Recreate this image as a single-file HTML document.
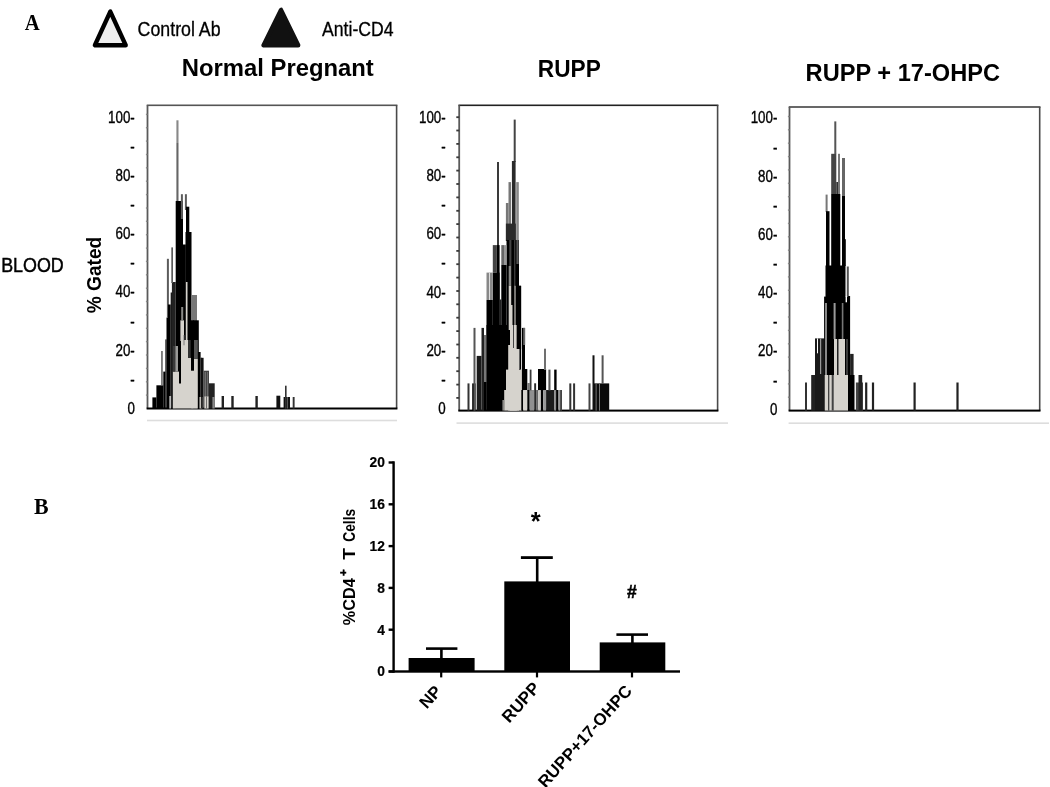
<!DOCTYPE html>
<html lang="en"><head><meta charset="utf-8"><title>Figure</title>
<style>
html,body{margin:0;padding:0;background:#fff;}
body{width:1050px;height:787px;overflow:hidden;}
svg text{fill:#000;}
svg{filter:blur(0.45px);}
</style></head><body>
<svg width="1050" height="787" viewBox="0 0 1050 787" style="display:block" shape-rendering="auto">
<text x="24.8" y="29.7" font-family='"Liberation Serif", serif' font-size="23" font-weight="bold" text-anchor="start" textLength="15" lengthAdjust="spacingAndGlyphs" >A</text>
<text x="34.0" y="513.6" font-family='"Liberation Serif", serif' font-size="23" font-weight="bold" text-anchor="start" textLength="14.6" lengthAdjust="spacingAndGlyphs" >B</text>
<polygon points="110.3,11.6 94.9,45.2 125.7,45.2" fill="#eeeeee" stroke="#000" stroke-width="4.4" stroke-linejoin="round"/>
<text x="137.6" y="35.6" font-family='"Liberation Sans", sans-serif' font-size="20" font-weight="normal" text-anchor="start" textLength="83" lengthAdjust="spacingAndGlyphs" stroke="#000" stroke-width="0.3">Control Ab</text>
<polygon points="281,9.9 263.6,45.2 298.2,45.2" fill="#111" stroke="#111" stroke-width="4.4" stroke-linejoin="round"/>
<text x="322" y="35.6" font-family='"Liberation Sans", sans-serif' font-size="20" font-weight="normal" text-anchor="start" textLength="71.6" lengthAdjust="spacingAndGlyphs" stroke="#000" stroke-width="0.3">Anti-CD4</text>
<text x="181.8" y="76.4" font-family='"Liberation Sans", sans-serif' font-size="24" font-weight="bold" text-anchor="start" textLength="192" lengthAdjust="spacingAndGlyphs" >Normal Pregnant</text>
<text x="537.8" y="76.6" font-family='"Liberation Sans", sans-serif' font-size="24" font-weight="bold" text-anchor="start" textLength="63" lengthAdjust="spacingAndGlyphs" >RUPP</text>
<text x="805.6" y="81" font-family='"Liberation Sans", sans-serif' font-size="24" font-weight="bold" text-anchor="start" textLength="194.4" lengthAdjust="spacingAndGlyphs" >RUPP + 17-OHPC</text>
<text x="1.2" y="271.7" font-family='"Liberation Sans", sans-serif' font-size="19.4" font-weight="normal" text-anchor="start" textLength="62.6" lengthAdjust="spacingAndGlyphs" stroke="#000" stroke-width="0.45">BLOOD</text>
<text transform="translate(101,313.3) rotate(-90)" font-family='"Liberation Sans", sans-serif' font-size="19.5" font-weight="bold" textLength="76.5" lengthAdjust="spacingAndGlyphs">% Gated</text>
<rect x="146.7" y="104.5" width="250.7" height="1.6" fill="#555"/>
<rect x="395.8" y="105.3" width="1.6" height="303.2" fill="#4a4a4a"/>
<rect x="146.6" y="105.3" width="1.8" height="303.2" fill="#5a5a5a"/>
<rect x="146.6" y="407.5" width="250.8" height="2.0" fill="#000"/>
<rect x="147.0" y="419.7" width="250.0" height="1.6" fill="#dddddd"/>
<rect x="145.9" y="394.4" width="1.6" height="1.4" fill="#888"/>
<rect x="145.9" y="381.1" width="1.6" height="1.4" fill="#888"/>
<rect x="145.9" y="367.7" width="1.6" height="1.4" fill="#888"/>
<rect x="145.9" y="354.3" width="1.6" height="1.4" fill="#888"/>
<rect x="145.9" y="340.9" width="1.6" height="1.4" fill="#888"/>
<rect x="145.9" y="327.6" width="1.6" height="1.4" fill="#888"/>
<rect x="145.9" y="314.2" width="1.6" height="1.4" fill="#888"/>
<rect x="145.9" y="300.8" width="1.6" height="1.4" fill="#888"/>
<rect x="145.9" y="287.5" width="1.6" height="1.4" fill="#888"/>
<rect x="145.9" y="274.1" width="1.6" height="1.4" fill="#888"/>
<rect x="145.9" y="260.7" width="1.6" height="1.4" fill="#888"/>
<rect x="145.9" y="247.4" width="1.6" height="1.4" fill="#888"/>
<rect x="145.9" y="234.0" width="1.6" height="1.4" fill="#888"/>
<rect x="145.9" y="220.6" width="1.6" height="1.4" fill="#888"/>
<rect x="145.9" y="207.3" width="1.6" height="1.4" fill="#888"/>
<rect x="145.9" y="193.9" width="1.6" height="1.4" fill="#888"/>
<rect x="145.9" y="180.5" width="1.6" height="1.4" fill="#888"/>
<rect x="145.9" y="167.1" width="1.6" height="1.4" fill="#888"/>
<rect x="145.9" y="153.8" width="1.6" height="1.4" fill="#888"/>
<rect x="145.9" y="140.4" width="1.6" height="1.4" fill="#888"/>
<rect x="145.9" y="127.0" width="1.6" height="1.4" fill="#888"/>
<rect x="145.9" y="113.7" width="1.6" height="1.4" fill="#888"/>
<text transform="translate(134.8,122.6) scale(0.834,1)" font-family='"Liberation Sans", sans-serif' font-size="16" font-weight="normal" text-anchor="end" stroke="#000" stroke-width="0.35">100-</text>
<text transform="translate(134.8,180.9) scale(0.834,1)" font-family='"Liberation Sans", sans-serif' font-size="16" font-weight="normal" text-anchor="end" stroke="#000" stroke-width="0.35">80-</text>
<text transform="translate(134.8,239.1) scale(0.834,1)" font-family='"Liberation Sans", sans-serif' font-size="16" font-weight="normal" text-anchor="end" stroke="#000" stroke-width="0.35">60-</text>
<text transform="translate(134.8,297.4) scale(0.834,1)" font-family='"Liberation Sans", sans-serif' font-size="16" font-weight="normal" text-anchor="end" stroke="#000" stroke-width="0.35">40-</text>
<text transform="translate(134.8,355.6) scale(0.834,1)" font-family='"Liberation Sans", sans-serif' font-size="16" font-weight="normal" text-anchor="end" stroke="#000" stroke-width="0.35">20-</text>
<text transform="translate(134.8,151.7) scale(0.834,1)" font-family='"Liberation Sans", sans-serif' font-size="16" font-weight="normal" text-anchor="end" stroke="#000" stroke-width="0.35">-</text>
<text transform="translate(134.8,210.0) scale(0.834,1)" font-family='"Liberation Sans", sans-serif' font-size="16" font-weight="normal" text-anchor="end" stroke="#000" stroke-width="0.35">-</text>
<text transform="translate(134.8,268.2) scale(0.834,1)" font-family='"Liberation Sans", sans-serif' font-size="16" font-weight="normal" text-anchor="end" stroke="#000" stroke-width="0.35">-</text>
<text transform="translate(134.8,326.5) scale(0.834,1)" font-family='"Liberation Sans", sans-serif' font-size="16" font-weight="normal" text-anchor="end" stroke="#000" stroke-width="0.35">-</text>
<text transform="translate(134.8,384.8) scale(0.834,1)" font-family='"Liberation Sans", sans-serif' font-size="16" font-weight="normal" text-anchor="end" stroke="#000" stroke-width="0.35">-</text>
<text transform="translate(134.8,413.9) scale(0.834,1)" font-family='"Liberation Sans", sans-serif' font-size="16" font-weight="normal" text-anchor="end" stroke="#000" stroke-width="0.35">0</text>
<rect x="458.4" y="104.5" width="260.0" height="1.6" fill="#222"/>
<rect x="716.8" y="105.3" width="1.6" height="305.3" fill="#4a4a4a"/>
<rect x="458.3" y="105.3" width="1.8" height="305.3" fill="#5a5a5a"/>
<rect x="458.3" y="409.6" width="260.1" height="2.0" fill="#000"/>
<rect x="456.5" y="422.3" width="271.5" height="1.6" fill="#dddddd"/>
<rect x="456.3" y="397.0" width="2.9" height="1.8" fill="#3a3a3a"/>
<rect x="456.3" y="383.7" width="2.9" height="1.8" fill="#3a3a3a"/>
<rect x="456.3" y="370.3" width="2.9" height="1.8" fill="#3a3a3a"/>
<rect x="456.3" y="356.9" width="2.9" height="1.8" fill="#3a3a3a"/>
<rect x="456.3" y="343.6" width="2.9" height="1.8" fill="#3a3a3a"/>
<rect x="456.3" y="330.2" width="2.9" height="1.8" fill="#3a3a3a"/>
<rect x="456.3" y="316.8" width="2.9" height="1.8" fill="#3a3a3a"/>
<rect x="456.3" y="303.4" width="2.9" height="1.8" fill="#3a3a3a"/>
<rect x="456.3" y="290.1" width="2.9" height="1.8" fill="#3a3a3a"/>
<rect x="456.3" y="276.7" width="2.9" height="1.8" fill="#3a3a3a"/>
<rect x="456.3" y="263.3" width="2.9" height="1.8" fill="#3a3a3a"/>
<rect x="456.3" y="250.0" width="2.9" height="1.8" fill="#3a3a3a"/>
<rect x="456.3" y="236.6" width="2.9" height="1.8" fill="#3a3a3a"/>
<rect x="456.3" y="223.2" width="2.9" height="1.8" fill="#3a3a3a"/>
<rect x="456.3" y="209.9" width="2.9" height="1.8" fill="#3a3a3a"/>
<rect x="456.3" y="196.5" width="2.9" height="1.8" fill="#3a3a3a"/>
<rect x="456.3" y="183.1" width="2.9" height="1.8" fill="#3a3a3a"/>
<rect x="456.3" y="169.7" width="2.9" height="1.8" fill="#3a3a3a"/>
<rect x="456.3" y="156.4" width="2.9" height="1.8" fill="#3a3a3a"/>
<rect x="456.3" y="143.0" width="2.9" height="1.8" fill="#3a3a3a"/>
<rect x="456.3" y="129.6" width="2.9" height="1.8" fill="#3a3a3a"/>
<rect x="456.3" y="116.3" width="2.9" height="1.8" fill="#3a3a3a"/>
<text transform="translate(445.7,122.7) scale(0.834,1)" font-family='"Liberation Sans", sans-serif' font-size="16" font-weight="normal" text-anchor="end" stroke="#000" stroke-width="0.35">100-</text>
<text transform="translate(445.7,181.0) scale(0.834,1)" font-family='"Liberation Sans", sans-serif' font-size="16" font-weight="normal" text-anchor="end" stroke="#000" stroke-width="0.35">80-</text>
<text transform="translate(445.7,239.2) scale(0.834,1)" font-family='"Liberation Sans", sans-serif' font-size="16" font-weight="normal" text-anchor="end" stroke="#000" stroke-width="0.35">60-</text>
<text transform="translate(445.7,297.5) scale(0.834,1)" font-family='"Liberation Sans", sans-serif' font-size="16" font-weight="normal" text-anchor="end" stroke="#000" stroke-width="0.35">40-</text>
<text transform="translate(445.7,355.7) scale(0.834,1)" font-family='"Liberation Sans", sans-serif' font-size="16" font-weight="normal" text-anchor="end" stroke="#000" stroke-width="0.35">20-</text>
<text transform="translate(445.7,151.8) scale(0.834,1)" font-family='"Liberation Sans", sans-serif' font-size="16" font-weight="normal" text-anchor="end" stroke="#000" stroke-width="0.35">-</text>
<text transform="translate(445.7,210.1) scale(0.834,1)" font-family='"Liberation Sans", sans-serif' font-size="16" font-weight="normal" text-anchor="end" stroke="#000" stroke-width="0.35">-</text>
<text transform="translate(445.7,268.4) scale(0.834,1)" font-family='"Liberation Sans", sans-serif' font-size="16" font-weight="normal" text-anchor="end" stroke="#000" stroke-width="0.35">-</text>
<text transform="translate(445.7,326.6) scale(0.834,1)" font-family='"Liberation Sans", sans-serif' font-size="16" font-weight="normal" text-anchor="end" stroke="#000" stroke-width="0.35">-</text>
<text transform="translate(445.7,384.9) scale(0.834,1)" font-family='"Liberation Sans", sans-serif' font-size="16" font-weight="normal" text-anchor="end" stroke="#000" stroke-width="0.35">-</text>
<text transform="translate(445.7,414.0) scale(0.834,1)" font-family='"Liberation Sans", sans-serif' font-size="16" font-weight="normal" text-anchor="end" stroke="#000" stroke-width="0.35">0</text>
<rect x="788.7" y="106.2" width="251.8" height="1.6" fill="#444"/>
<rect x="1038.9" y="107.0" width="1.6" height="303.6" fill="#4a4a4a"/>
<rect x="788.6" y="107.0" width="1.8" height="303.6" fill="#5a5a5a"/>
<rect x="788.6" y="409.6" width="251.9" height="2.0" fill="#000"/>
<rect x="788.6" y="422.4" width="260.4" height="1.6" fill="#dddddd"/>
<rect x="787.9" y="396.5" width="1.6" height="1.4" fill="#888"/>
<rect x="787.9" y="383.2" width="1.6" height="1.4" fill="#888"/>
<rect x="787.9" y="369.8" width="1.6" height="1.4" fill="#888"/>
<rect x="787.9" y="356.4" width="1.6" height="1.4" fill="#888"/>
<rect x="787.9" y="343.1" width="1.6" height="1.4" fill="#888"/>
<rect x="787.9" y="329.7" width="1.6" height="1.4" fill="#888"/>
<rect x="787.9" y="316.3" width="1.6" height="1.4" fill="#888"/>
<rect x="787.9" y="302.9" width="1.6" height="1.4" fill="#888"/>
<rect x="787.9" y="289.6" width="1.6" height="1.4" fill="#888"/>
<rect x="787.9" y="276.2" width="1.6" height="1.4" fill="#888"/>
<rect x="787.9" y="262.8" width="1.6" height="1.4" fill="#888"/>
<rect x="787.9" y="249.5" width="1.6" height="1.4" fill="#888"/>
<rect x="787.9" y="236.1" width="1.6" height="1.4" fill="#888"/>
<rect x="787.9" y="222.7" width="1.6" height="1.4" fill="#888"/>
<rect x="787.9" y="209.4" width="1.6" height="1.4" fill="#888"/>
<rect x="787.9" y="196.0" width="1.6" height="1.4" fill="#888"/>
<rect x="787.9" y="182.6" width="1.6" height="1.4" fill="#888"/>
<rect x="787.9" y="169.2" width="1.6" height="1.4" fill="#888"/>
<rect x="787.9" y="155.9" width="1.6" height="1.4" fill="#888"/>
<rect x="787.9" y="142.5" width="1.6" height="1.4" fill="#888"/>
<rect x="787.9" y="129.1" width="1.6" height="1.4" fill="#888"/>
<rect x="787.9" y="115.8" width="1.6" height="1.4" fill="#888"/>
<text transform="translate(777.4,123.4) scale(0.834,1)" font-family='"Liberation Sans", sans-serif' font-size="16" font-weight="normal" text-anchor="end" stroke="#000" stroke-width="0.35">100-</text>
<text transform="translate(777.4,181.7) scale(0.834,1)" font-family='"Liberation Sans", sans-serif' font-size="16" font-weight="normal" text-anchor="end" stroke="#000" stroke-width="0.35">80-</text>
<text transform="translate(777.4,239.9) scale(0.834,1)" font-family='"Liberation Sans", sans-serif' font-size="16" font-weight="normal" text-anchor="end" stroke="#000" stroke-width="0.35">60-</text>
<text transform="translate(777.4,298.2) scale(0.834,1)" font-family='"Liberation Sans", sans-serif' font-size="16" font-weight="normal" text-anchor="end" stroke="#000" stroke-width="0.35">40-</text>
<text transform="translate(777.4,356.4) scale(0.834,1)" font-family='"Liberation Sans", sans-serif' font-size="16" font-weight="normal" text-anchor="end" stroke="#000" stroke-width="0.35">20-</text>
<text transform="translate(777.4,152.5) scale(0.834,1)" font-family='"Liberation Sans", sans-serif' font-size="16" font-weight="normal" text-anchor="end" stroke="#000" stroke-width="0.35">-</text>
<text transform="translate(777.4,210.8) scale(0.834,1)" font-family='"Liberation Sans", sans-serif' font-size="16" font-weight="normal" text-anchor="end" stroke="#000" stroke-width="0.35">-</text>
<text transform="translate(777.4,269.1) scale(0.834,1)" font-family='"Liberation Sans", sans-serif' font-size="16" font-weight="normal" text-anchor="end" stroke="#000" stroke-width="0.35">-</text>
<text transform="translate(777.4,327.3) scale(0.834,1)" font-family='"Liberation Sans", sans-serif' font-size="16" font-weight="normal" text-anchor="end" stroke="#000" stroke-width="0.35">-</text>
<text transform="translate(777.4,385.6) scale(0.834,1)" font-family='"Liberation Sans", sans-serif' font-size="16" font-weight="normal" text-anchor="end" stroke="#000" stroke-width="0.35">-</text>
<text transform="translate(777.4,414.7) scale(0.834,1)" font-family='"Liberation Sans", sans-serif' font-size="16" font-weight="normal" text-anchor="end" stroke="#000" stroke-width="0.35">0</text>
<rect x="152.4" y="397.4" width="4.0" height="11.1" fill="#000"/>
<rect x="156.4" y="385.3" width="6.9" height="23.2" fill="#000"/>
<rect x="161.2" y="351.0" width="1.5" height="34.5" fill="#5c5c5c"/>
<rect x="163.3" y="371.6" width="2.1" height="36.9" fill="#000"/>
<rect x="165.4" y="339.4" width="1.1" height="69.1" fill="#000"/>
<rect x="166.5" y="317.6" width="1.5" height="90.9" fill="#000"/>
<rect x="166.9" y="258.8" width="2.0" height="59.2" fill="#5c5c5c"/>
<rect x="168.0" y="304.5" width="2.7" height="104.0" fill="#000"/>
<rect x="170.7" y="292.5" width="1.2" height="116.0" fill="#000"/>
<rect x="171.9" y="282.0" width="3.8" height="126.5" fill="#222"/>
<rect x="171.3" y="247.4" width="1.7" height="35.6" fill="#5c5c5c"/>
<rect x="175.7" y="201.0" width="7.3" height="207.5" fill="#000"/>
<rect x="176.4" y="143.0" width="2.1" height="58.0" fill="#666"/>
<rect x="176.4" y="120.3" width="2.1" height="22.7" fill="#888"/>
<rect x="180.9" y="194.2" width="2.0" height="24.8" fill="#5c5c5c"/>
<rect x="182.6" y="244.5" width="3.2" height="164.0" fill="#000"/>
<rect x="184.9" y="194.2" width="2.0" height="15.8" fill="#5c5c5c"/>
<rect x="186.0" y="206.7" width="3.3" height="201.8" fill="#000"/>
<rect x="189.3" y="232.0" width="2.0" height="176.5" fill="#000"/>
<rect x="185.5" y="232.0" width="5.8" height="176.5" fill="#000"/>
<rect x="191.3" y="295.0" width="5.7" height="113.5" fill="#777"/>
<rect x="193.2" y="320.3" width="5.6" height="88.2" fill="#000"/>
<rect x="190.7" y="320.3" width="3.3" height="50.7" fill="#000"/>
<rect x="197.8" y="352.0" width="2.8" height="56.5" fill="#000"/>
<rect x="200.6" y="357.8" width="3.0" height="50.7" fill="#111"/>
<rect x="203.6" y="370.7" width="5.4" height="37.8" fill="#444"/>
<rect x="209.0" y="383.3" width="5.7" height="25.2" fill="#222"/>
<rect x="204.8" y="372.0" width="0.8" height="24.4" fill="#8a8a8a"/>
<rect x="207.2" y="372.0" width="0.8" height="24.4" fill="#777"/>
<rect x="172.9" y="371.6" width="6.1" height="36.9" fill="#d6d3cd"/>
<rect x="172.9" y="346.0" width="2.6" height="25.6" fill="#3a3a3a"/>
<rect x="175.5" y="346.0" width="2.5" height="25.6" fill="#9a9a98"/>
<rect x="179.0" y="383.5" width="2.0" height="25.0" fill="#d6d3cd"/>
<rect x="181.0" y="340.0" width="7.0" height="68.5" fill="#d6d3cd"/>
<rect x="180.4" y="320.3" width="3.6" height="20.7" fill="#d6d3cd"/>
<rect x="181.2" y="307.0" width="2.0" height="13.3" fill="#8a8a88"/>
<rect x="185.9" y="282.0" width="1.6" height="59.0" fill="#d6d3cd"/>
<rect x="183.6" y="335.0" width="0.8" height="10.3" fill="#666"/>
<rect x="188.0" y="357.8" width="3.0" height="50.7" fill="#d6d3cd"/>
<rect x="188.0" y="340.0" width="2.7" height="17.8" fill="#333"/>
<rect x="191.0" y="370.7" width="3.0" height="37.8" fill="#d6d3cd"/>
<rect x="194.0" y="358.7" width="3.8" height="49.8" fill="#d6d3cd"/>
<rect x="194.0" y="340.0" width="3.8" height="18.7" fill="#555"/>
<rect x="199.5" y="397.0" width="2.7" height="11.5" fill="#d6d3cd"/>
<rect x="200.9" y="357.8" width="1.0" height="50.7" fill="#111"/>
<rect x="204.4" y="396.4" width="4.1" height="12.1" fill="#d6d3cd"/>
<rect x="206.0" y="396.4" width="0.8" height="12.1" fill="#555"/>
<rect x="212.4" y="397.0" width="2.3" height="11.5" fill="#888"/>
<rect x="169.3" y="396.0" width="1.8" height="12.5" fill="#bbb"/>
<rect x="221.6" y="396.0" width="2.4" height="12.5" fill="#222"/>
<rect x="231.3" y="396.0" width="2.4" height="12.5" fill="#222"/>
<rect x="255.4" y="396.0" width="2.4" height="12.5" fill="#222"/>
<rect x="276.4" y="395.7" width="3.9" height="12.8" fill="#111"/>
<rect x="283.6" y="397.0" width="6.4" height="11.5" fill="#111"/>
<rect x="285.0" y="385.7" width="1.6" height="22.8" fill="#333"/>
<rect x="287.2" y="397.0" width="0.7" height="11.5" fill="#777"/>
<rect x="292.7" y="397.0" width="1.9" height="11.5" fill="#333"/>
<rect x="497.0" y="162.0" width="2.0" height="84.0" fill="#3a3a3a"/>
<rect x="513.7" y="119.6" width="2.0" height="42.4" fill="#444"/>
<rect x="511.9" y="161.0" width="3.7" height="80.0" fill="#2a2a2a"/>
<rect x="508.5" y="182.1" width="2.5" height="58.9" fill="#777"/>
<rect x="516.2" y="182.1" width="2.6" height="58.9" fill="#888"/>
<rect x="505.9" y="203.0" width="2.6" height="38.0" fill="#777"/>
<rect x="505.9" y="223.6" width="9.9" height="17.4" fill="#2a2a2a"/>
<rect x="506.5" y="240.0" width="12.5" height="170.6" fill="#000"/>
<rect x="509.3" y="240.0" width="2.1" height="26.0" fill="#444"/>
<rect x="514.0" y="240.0" width="1.4" height="46.0" fill="#3a3a3a"/>
<rect x="516.4" y="240.0" width="2.3" height="24.0" fill="#555"/>
<rect x="492.8" y="245.1" width="4.0" height="27.5" fill="#444"/>
<rect x="492.8" y="272.6" width="6.8" height="138.0" fill="#000"/>
<rect x="496.8" y="245.1" width="2.8" height="165.5" fill="#000"/>
<rect x="486.5" y="272.6" width="6.3" height="27.4" fill="#888"/>
<rect x="489.0" y="272.6" width="1.0" height="27.4" fill="#ddd"/>
<rect x="486.5" y="300.0" width="6.3" height="110.6" fill="#000"/>
<rect x="499.6" y="299.5" width="1.7" height="111.1" fill="#222"/>
<rect x="501.3" y="245.1" width="2.7" height="19.9" fill="#666"/>
<rect x="501.3" y="265.0" width="5.2" height="145.6" fill="#000"/>
<rect x="504.0" y="245.1" width="2.5" height="19.9" fill="#999"/>
<rect x="519.0" y="285.8" width="2.1" height="124.8" fill="#000"/>
<rect x="467.5" y="383.4" width="2.0" height="27.2" fill="#333"/>
<rect x="472.2" y="383.4" width="3.4" height="27.2" fill="#000"/>
<rect x="473.5" y="327.9" width="2.0" height="82.7" fill="#555"/>
<rect x="476.7" y="355.9" width="4.8" height="54.7" fill="#1a1a1a"/>
<rect x="481.5" y="327.9" width="2.5" height="82.7" fill="#222"/>
<rect x="484.0" y="335.0" width="2.5" height="47.0" fill="#777"/>
<rect x="484.0" y="382.0" width="2.5" height="28.6" fill="#000"/>
<rect x="486.5" y="325.0" width="23.5" height="85.6" fill="#000"/>
<rect x="508.7" y="266.0" width="2.5" height="19.8" fill="#8a8a88"/>
<rect x="508.7" y="285.8" width="2.5" height="44.2" fill="#d6d3cd"/>
<rect x="509.2" y="305.0" width="3.3" height="25.0" fill="#d6d3cd"/>
<rect x="514.3" y="285.8" width="1.4" height="40.2" fill="#a8a6a2"/>
<rect x="510.0" y="325.0" width="6.8" height="85.6" fill="#d6d3cd"/>
<rect x="508.2" y="349.0" width="10.8" height="61.6" fill="#d6d3cd"/>
<rect x="508.2" y="345.0" width="1.8" height="4.0" fill="#d6d3cd"/>
<rect x="506.0" y="369.6" width="15.9" height="41.0" fill="#d6d3cd"/>
<rect x="504.2" y="390.0" width="1.8" height="20.6" fill="#d6d3cd"/>
<rect x="502.4" y="400.0" width="1.8" height="10.6" fill="#8c8a86"/>
<rect x="513.0" y="325.0" width="1.0" height="23.0" fill="#444"/>
<rect x="519.0" y="349.0" width="0.8" height="20.0" fill="#777"/>
<rect x="516.8" y="285.8" width="4.3" height="63.2" fill="#000"/>
<rect x="521.9" y="327.9" width="3.1" height="62.3" fill="#000"/>
<rect x="523.2" y="327.9" width="2.0" height="17.1" fill="#666"/>
<rect x="525.0" y="369.0" width="2.3" height="21.2" fill="#000"/>
<rect x="521.3" y="390.0" width="1.9" height="20.6" fill="#000"/>
<rect x="523.2" y="390.2" width="4.1" height="20.4" fill="#d6d3cd"/>
<rect x="527.3" y="383.0" width="2.4" height="7.5" fill="#777"/>
<rect x="527.3" y="390.0" width="2.4" height="20.6" fill="#000"/>
<rect x="529.7" y="390.0" width="4.5" height="20.6" fill="#909090"/>
<rect x="529.7" y="369.6" width="1.8" height="20.7" fill="#3a3a3a"/>
<rect x="534.2" y="383.3" width="1.9" height="27.3" fill="#2a2a2a"/>
<rect x="536.1" y="390.0" width="2.1" height="20.6" fill="#666"/>
<rect x="538.0" y="369.0" width="8.1" height="21.5" fill="#000"/>
<rect x="544.0" y="348.7" width="2.0" height="21.3" fill="#707070"/>
<rect x="538.2" y="390.0" width="2.7" height="20.6" fill="#c8c6c2"/>
<rect x="540.9" y="390.0" width="2.3" height="20.6" fill="#000"/>
<rect x="543.2" y="390.0" width="2.9" height="20.6" fill="#999"/>
<rect x="546.1" y="390.0" width="8.1" height="20.6" fill="#1c1c1c"/>
<rect x="548.4" y="369.6" width="2.1" height="20.9" fill="#555"/>
<rect x="554.2" y="369.6" width="2.4" height="20.9" fill="#000"/>
<rect x="554.2" y="390.0" width="1.9" height="20.6" fill="#888"/>
<rect x="556.1" y="390.0" width="2.4" height="20.6" fill="#000"/>
<rect x="558.5" y="390.0" width="1.6" height="20.6" fill="#999"/>
<rect x="560.1" y="390.0" width="1.9" height="20.6" fill="#444"/>
<rect x="569.3" y="383.4" width="2.0" height="27.2" fill="#333"/>
<rect x="573.1" y="383.4" width="2.0" height="27.2" fill="#333"/>
<rect x="588.5" y="383.4" width="2.0" height="27.2" fill="#444"/>
<rect x="593.2" y="383.4" width="16.0" height="27.2" fill="#0a0a0a"/>
<rect x="592.5" y="355.3" width="2.0" height="55.3" fill="#111"/>
<rect x="595.6" y="384.0" width="1.0" height="26.6" fill="#777"/>
<rect x="599.0" y="384.0" width="1.0" height="26.6" fill="#777"/>
<rect x="601.6" y="355.3" width="2.0" height="28.7" fill="#555"/>
<rect x="805.0" y="382.5" width="2.0" height="28.1" fill="#333"/>
<rect x="811.2" y="375.0" width="3.8" height="35.6" fill="#222"/>
<rect x="815.0" y="338.4" width="9.5" height="72.2" fill="#1a1a1a"/>
<rect x="817.0" y="338.4" width="1.0" height="14.9" fill="#fff"/>
<rect x="820.0" y="338.4" width="1.2" height="35.6" fill="#999"/>
<rect x="824.1" y="296.6" width="25.6" height="114.0" fill="#000"/>
<rect x="825.5" y="265.5" width="20.0" height="31.5" fill="#000"/>
<rect x="825.6" y="194.6" width="2.0" height="17.4" fill="#777"/>
<rect x="826.0" y="211.2" width="3.5" height="54.8" fill="#000"/>
<rect x="831.2" y="194.0" width="9.1" height="72.0" fill="#000"/>
<rect x="831.2" y="153.8" width="5.1" height="40.2" fill="#444"/>
<rect x="834.3" y="121.4" width="2.0" height="32.6" fill="#555"/>
<rect x="838.0" y="153.8" width="2.0" height="40.2" fill="#777"/>
<rect x="836.3" y="182.0" width="1.7" height="12.0" fill="#333"/>
<rect x="842.0" y="158.0" width="3.0" height="38.0" fill="#666"/>
<rect x="842.0" y="196.0" width="3.0" height="70.0" fill="#000"/>
<rect x="845.0" y="239.2" width="0.8" height="26.8" fill="#000"/>
<rect x="846.8" y="266.5" width="2.0" height="30.5" fill="#555"/>
<rect x="845.6" y="296.0" width="1.4" height="6.3" fill="#fff"/>
<rect x="825.0" y="303.0" width="2.0" height="72.0" fill="#888"/>
<rect x="833.6" y="303.0" width="2.0" height="36.0" fill="#999"/>
<rect x="841.8" y="303.0" width="1.6" height="36.0" fill="#777"/>
<rect x="834.0" y="339.0" width="11.0" height="36.5" fill="#d6d3cd"/>
<rect x="837.0" y="339.0" width="1.5" height="36.5" fill="#222"/>
<rect x="824.7" y="375.0" width="23.4" height="35.6" fill="#d6d3cd"/>
<rect x="828.1" y="375.0" width="1.2" height="35.6" fill="#333"/>
<rect x="831.7" y="375.0" width="2.0" height="35.6" fill="#444"/>
<rect x="846.5" y="339.0" width="1.0" height="36.0" fill="#777"/>
<rect x="848.1" y="296.0" width="2.0" height="114.6" fill="#000"/>
<rect x="850.1" y="353.9" width="3.5" height="56.7" fill="#222"/>
<rect x="848.1" y="375.0" width="6.4" height="35.6" fill="#000"/>
<rect x="855.9" y="382.5" width="7.1" height="28.1" fill="#444"/>
<rect x="858.5" y="375.0" width="3.7" height="35.6" fill="#222"/>
<rect x="865.1" y="382.5" width="2.2" height="28.1" fill="#222"/>
<rect x="871.9" y="382.5" width="2.2" height="28.1" fill="#222"/>
<rect x="913.5" y="382.5" width="2.2" height="28.1" fill="#222"/>
<rect x="956.4" y="382.5" width="2.2" height="28.1" fill="#222"/>
<rect x="392.4" y="461.3" width="2.4" height="211.4" fill="#000"/>
<rect x="388.6" y="670.3" width="291.4" height="2.4" fill="#000"/>
<rect x="388.6" y="670.3" width="5.0" height="2.4" fill="#000"/>
<text transform="translate(384.9,676.4) scale(1.0,1)" font-family='"Liberation Sans", sans-serif' font-size="13.8" font-weight="bold" text-anchor="end" stroke="#000" stroke-width="0.2">0</text>
<rect x="388.6" y="628.5" width="5.0" height="2.4" fill="#000"/>
<text transform="translate(384.9,634.6) scale(1.0,1)" font-family='"Liberation Sans", sans-serif' font-size="13.8" font-weight="bold" text-anchor="end" stroke="#000" stroke-width="0.2">4</text>
<rect x="388.6" y="586.7" width="5.0" height="2.4" fill="#000"/>
<text transform="translate(384.9,592.8) scale(1.0,1)" font-family='"Liberation Sans", sans-serif' font-size="13.8" font-weight="bold" text-anchor="end" stroke="#000" stroke-width="0.2">8</text>
<rect x="388.6" y="544.9" width="5.0" height="2.4" fill="#000"/>
<text transform="translate(384.9,551.0) scale(1.0,1)" font-family='"Liberation Sans", sans-serif' font-size="13.8" font-weight="bold" text-anchor="end" stroke="#000" stroke-width="0.2">12</text>
<rect x="388.6" y="503.1" width="5.0" height="2.4" fill="#000"/>
<text transform="translate(384.9,509.2) scale(1.0,1)" font-family='"Liberation Sans", sans-serif' font-size="13.8" font-weight="bold" text-anchor="end" stroke="#000" stroke-width="0.2">16</text>
<rect x="388.6" y="461.3" width="5.0" height="2.4" fill="#000"/>
<text transform="translate(384.9,467.4) scale(1.0,1)" font-family='"Liberation Sans", sans-serif' font-size="13.8" font-weight="bold" text-anchor="end" stroke="#000" stroke-width="0.2">20</text>
<rect x="440.1" y="671.5" width="2.2" height="5.9" fill="#000"/>
<rect x="535.9" y="671.5" width="2.2" height="5.9" fill="#000"/>
<rect x="630.9" y="671.5" width="2.2" height="5.9" fill="#000"/>
<rect x="408.6" y="658.0" width="66.0" height="13.5" fill="#000"/>
<rect x="504.3" y="581.4" width="65.7" height="90.1" fill="#000"/>
<rect x="599.7" y="642.4" width="65.6" height="29.1" fill="#000"/>
<rect x="440.1" y="648.6" width="2.6" height="10.4" fill="#000"/>
<rect x="426.0" y="647.3" width="31.4" height="2.6" fill="#000"/>
<rect x="535.9" y="557.6" width="2.6" height="24.4" fill="#000"/>
<rect x="520.9" y="556.2" width="31.9" height="2.8" fill="#000"/>
<rect x="631.1" y="634.6" width="2.6" height="8.4" fill="#000"/>
<rect x="616.4" y="633.3" width="31.6" height="2.6" fill="#000"/>
<text x="535.6" y="529.6" font-family='"Liberation Sans", sans-serif' font-size="25.5" font-weight="bold" text-anchor="middle" >*</text>
<text x="631.9" y="598.0" font-family='"Liberation Sans", sans-serif' font-size="17.5" font-weight="bold" text-anchor="middle" stroke="#000" stroke-width="0.5">#</text>
<text transform="translate(438.4,688.2) rotate(-48)" x="0" y="5.6" font-family='"Liberation Sans", sans-serif' font-size="17" font-weight="bold" text-anchor="end">NP</text>
<text transform="translate(536.6,684.8) rotate(-48)" x="0" y="5.6" font-family='"Liberation Sans", sans-serif' font-size="17" font-weight="bold" text-anchor="end">RUPP</text>
<text transform="translate(628.8,687.8) rotate(-48)" x="0" y="5.6" font-family='"Liberation Sans", sans-serif' font-size="17" font-weight="bold" text-anchor="end">RUPP+17-OHPC</text>
<text transform="translate(354.9,625.3) rotate(-90)" font-family='"Liberation Sans", sans-serif' font-weight="bold" font-size="16" xml:space="preserve"><tspan x="0" y="0" textLength="47" lengthAdjust="spacingAndGlyphs">%CD4</tspan><tspan x="49.4" y="-8.0" font-size="11.5" stroke="#000" stroke-width="0.5">+</tspan><tspan x="58" y="0"> </tspan><tspan x="65.5" y="0" textLength="11.6" lengthAdjust="spacingAndGlyphs">T</tspan><tspan x="78" y="0"> </tspan><tspan x="83.5" y="0" textLength="33" lengthAdjust="spacingAndGlyphs">Cells</tspan></text>
</svg>
</body></html>
